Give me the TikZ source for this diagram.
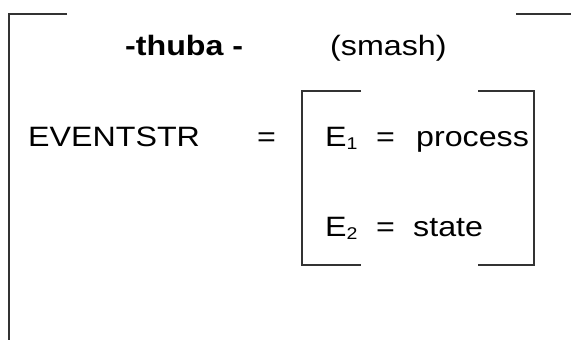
\documentclass[tikz,border=0pt]{standalone}
\usepackage{fontspec}
\setmainfont{Liberation Sans}[FakeStretch=1.15]
\usetikzlibrary{positioning}
\newcommand{\evsub}[1]{\raisebox{-3pt}{\fontsize{17}{20}\selectfont #1}}

\begin{document}
\begin{tikzpicture}[x=1pt,y=-1pt,
  txt/.style={inner sep=0pt,anchor=base west,font=\fontsize{28}{34}\selectfont},
  brk/.style={line width=1.4pt,draw=black!80}]
  \useasboundingbox (0,0) rectangle (571,340);
  % outer bracket
  \coordinate (OL1) at (67,14);
  \coordinate (OL2) at (9,14);
  \coordinate (OL3) at (9,340);
  \coordinate (OR1) at (516,14);
  \coordinate (OR2) at (571,14);
  \draw[brk] (OL1) -- (OL2) -- (OL3);
  \draw[brk] (OR1) -- (OR2);
  % inner bracket
  \coordinate (IL1) at (361,91);
  \coordinate (IL2) at (302,91);
  \coordinate (IL3) at (302,265);
  \coordinate (IL4) at (361,265);
  \coordinate (IR1) at (478,91);
  \coordinate (IR2) at (534,91);
  \coordinate (IR3) at (534,265);
  \coordinate (IR4) at (478,265);
  \draw[brk] (IL1) -- (IL2) -- (IL3) -- (IL4);
  \draw[brk] (IR1) -- (IR2) -- (IR3) -- (IR4);
  % text
  \node[txt,font=\fontsize{28}{34}\selectfont\bfseries] (thuba) at (125,56) {-thuba -};
  \node[txt] (smash) at (330,56) {(smash)};
  \node[txt] (evstr) at (28,146) {EVENTSTR};
  \node[txt] (eqsign) at (257,146) {=};
  \node[txt] (eone) at (325,146) {E\evsub{1}};
  \node[txt] (eqone) at (376,146) {=};
  \node[txt] (proc) at (416,146) {process};
  \node[txt] (etwo) at (325,236) {E\evsub{2}};
  \node[txt] (eqtwo) at (376,236) {=};
  \node[txt] (state) at (413,236) {state};
\end{tikzpicture}
\end{document}
